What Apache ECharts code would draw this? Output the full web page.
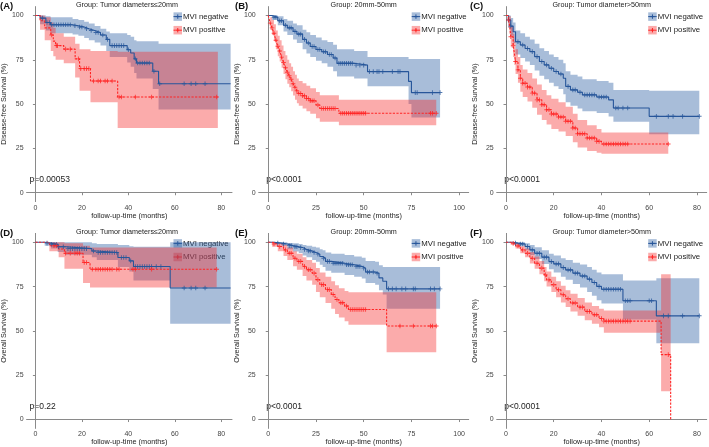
<!DOCTYPE html>
<html><head><meta charset="utf-8">
<script src="https://cdn.jsdelivr.net/npm/echarts@6/dist/echarts.min.js"></script>
<style>html,body{margin:0;padding:0;background:#fff}#c{width:709px;height:447px}</style>
</head><body><div id="c"></div>
<script>
// ---------- tick labels ----------
const xTicks80 = [0, 20, 40, 60, 80];
const xTicks100 = [0, 25, 50, 75, 100];
const yTicks = [0, 25, 50, 75, 100];
const legendNames = ['MVI negative', 'MVI positive'];
const panelLabels = ['(A)', '(B)', '(C)', '(D)', '(E)', '(F)'];
const groupTitles = ['Group: Tumor diameters\u226420mm', 'Group: 20mm-50mm', 'Group: Tumor diameter>50mm',
                     'Group: Tumor diameters\u226420mm', 'Group: 20mm-50mm', 'Group: Tumor diameter>50mm'];
const yNames = ['Disease-free Survival (%)', 'Disease-free Survival (%)', 'Disease-free Survival (%)',
                'Overall Survival (%)', 'Overall Survival (%)', 'Overall Survival (%)'];
const pValues = ['p=0.00053', 'p<0.0001', 'p<0.0001', 'p=0.22', 'p<0.0001', 'p<0.0001'];
const xName = 'follow-up-time (months)';

// ---------- Panel A: DFS, <=20mm ----------
const A_negT  = [0, 2, 4.5, 6.5, 16, 18.5, 21, 23, 25.5, 28, 30.5, 32, 39.5, 41, 42.5, 43.5, 50.5, 53, 84];
const A_negS  = [100, 98.5, 96, 94.8, 94.2, 93.5, 92.5, 91.5, 90.4, 89, 86.5, 83, 80.7, 78.8, 75.5, 73.2, 68.5, 61.5, 61.5];
const A_negLo = [100, 95, 91.5, 90, 89.3, 88.5, 87.3, 86, 84.8, 83, 80, 76.5, 73.5, 71, 67.5, 64.5, 58.5, 47, 47];
const A_negHi = [100, 100, 99.5, 99, 98, 97.5, 96.5, 95.5, 94, 92.5, 91, 90, 89, 88, 86, 85.5, 85.5, 84, 84];
const A_negCens = [3, 5, 6, 7, 8, 9, 10, 11, 12, 13, 14, 15, 17, 19, 20, 22, 24, 26, 27, 29, 31, 33, 34, 35, 36, 37, 38, 40, 43, 44, 45, 46, 47, 48, 49, 51, 53.5, 64, 67, 69, 73];
const A_posT  = [0, 2, 4, 6.6, 7.7, 8.7, 12.2, 17.1, 19, 23.7, 35.4, 78.5];
const A_posS  = [100, 97, 93, 89, 85.5, 83, 81, 75.5, 70, 63, 54, 54];
const A_posLo = [100, 92, 86, 80, 77, 75, 73, 65, 57.5, 51, 36.5, 36.5];
const A_posHi = [100, 100, 99, 96, 93, 90, 88, 84, 81, 80, 79.5, 79.5];
const A_posCens = [7, 9, 9.5, 13, 15, 18.5, 19.5, 21, 22, 23, 25, 27, 28, 30, 31, 33, 36, 37, 43, 50, 78];

// ---------- Panel B: DFS, 20-50mm ----------
const B_negT  = [0, 2, 5, 8, 10, 13, 15, 18, 20, 22, 25, 28, 31, 34, 36, 45, 52, 73.5, 75, 90];
const B_negS  = [100, 99, 97, 94.5, 93, 91, 89.5, 86.5, 84.5, 82.5, 80.8, 79.5, 78, 76, 73, 72, 68.3, 62.8, 56.5, 56.5];
const B_negLo = [100, 97.5, 94.5, 91, 89, 86.5, 84.5, 81, 78.5, 76.5, 74.5, 73, 71, 68.5, 65.5, 64.5, 60, 50, 42.5, 42.5];
const B_negHi = [100, 100, 99.5, 98, 97, 95.5, 94.5, 92, 90.5, 89, 87.5, 86, 85, 83.5, 81, 80, 76.5, 75.5, 75.5, 75.5];
const B_negCens = [3, 4, 6, 7, 9, 11, 12, 14, 16, 17, 19, 21, 23, 24, 26, 27, 29, 30, 32, 33, 35, 37, 38, 39, 40, 41, 42, 43, 44, 46, 48, 50, 53, 55, 57, 58, 60, 65, 68, 69, 77, 78, 86, 90];
const B_posT  = [0, 1, 2, 3, 4, 5, 6, 7, 8, 9, 10, 11, 12, 13, 14, 15, 16, 18, 20, 22, 25, 27, 37, 88];
const B_posS  = [100, 95.7, 93, 90, 86, 82.6, 80, 76.5, 73.5, 70.5, 68, 66, 64, 61.5, 59.5, 57.5, 56, 54.7, 53.2, 51.9, 49.5, 47.5, 44.8, 44.8];
const B_posLo = [100, 92, 89, 85.5, 81, 77, 74, 70.5, 67, 64, 61.5, 59.5, 57.3, 54.8, 52.5, 50.5, 49, 47.5, 46, 44.5, 42, 40, 38, 38];
const B_posHi = [100, 99, 97.5, 95, 91.5, 88.5, 86, 83, 80, 77.5, 75, 73, 71, 68.5, 66.5, 64.5, 63, 61.8, 60.3, 59, 56.8, 55, 52.4, 52.4];
const B_posCens = [1, 2, 3, 4, 5, 6, 7, 8, 9, 10, 11, 12, 13, 14, 15, 16, 17, 18, 19, 20, 21, 22, 23, 24, 26, 28, 29, 30, 31, 32, 33, 34, 35, 38, 39, 40, 41, 42, 43, 44, 45, 46, 47, 48, 49, 50, 51, 85, 86, 88];

// ---------- Panel C: DFS, >50mm ----------
const C_negT  = [0, 1, 2, 3, 4, 6, 8, 10, 12, 14, 16, 18, 20, 22, 24, 25, 27, 30, 32, 38, 43, 45, 60, 81];
const C_negS  = [100, 97.4, 94, 90.8, 85.2, 83.3, 81.4, 79.6, 76.8, 74, 72.1, 70.2, 68.4, 67, 64.6, 60, 58, 56.7, 55.2, 54, 52.4, 47.8, 43.1, 43.1];
const C_negLo = [100, 93, 88.5, 84.5, 78, 76, 74, 72, 69, 66, 64, 62, 60, 58.5, 55.5, 51, 49, 47.5, 46, 45, 43, 40, 33, 33];
const C_negHi = [100, 100, 98.5, 96, 91.5, 90, 88, 86.5, 84, 81.5, 80, 78, 76.5, 75, 73, 68.5, 66.5, 65.5, 64, 63, 62, 58, 57.5, 57.5];
const C_negCens = [1, 2, 5, 7, 9, 11, 13, 15, 17, 19, 21, 23, 26, 28, 29, 31, 33, 34, 35, 36, 37, 39, 40, 41, 42, 46, 47, 49, 51, 63, 68, 70, 74, 81];
const C_posT  = [0, 1, 1.5, 2, 3, 3.5, 4, 5, 6, 7, 9, 11, 13, 15, 17, 19, 22, 25, 28, 30, 34, 38, 40, 68];
const C_posS  = [100, 97.4, 94.6, 88, 83, 78.7, 74, 69.3, 64.6, 61.8, 59.6, 56.2, 52.4, 49.6, 46.8, 44.4, 42.7, 40.3, 36.5, 33.3, 30.9, 29, 27.5, 27.5];
const C_posLo = [100, 93, 89.5, 82, 76.5, 72, 67, 62, 57, 54, 51.5, 48, 44, 41, 38.5, 36, 34.5, 32, 28.5, 25.5, 23.5, 22.5, 22, 22];
const C_posHi = [100, 100, 99.5, 94, 89.5, 85.5, 81, 76.5, 72, 69.5, 67.5, 64.5, 61, 58, 55, 53, 51, 48.5, 44.5, 41, 38, 36, 34, 34];
const C_posCens = [1, 2, 3, 4, 5, 6, 7, 8, 9, 10, 11, 12, 13, 14, 15, 16, 17, 18, 19, 20, 21, 22, 23, 24, 25, 26, 27, 28, 29, 30, 31, 32, 33, 34, 35, 36, 37, 38, 39, 41, 42, 43, 44, 45, 46, 47, 48, 49, 50, 51, 68];

// ---------- Panel D: OS, <=20mm ----------
const D_negT  = [0, 4, 6.7, 9.6, 13, 24.3, 26.4, 35.5, 40.4, 42.2, 58, 84];
const D_negS  = [100, 99.5, 98.9, 97.5, 96.4, 95.1, 94.2, 91.4, 89.5, 86.3, 74.2, 74.2];
const D_negLo = [100, 98, 96.5, 94.5, 93, 91.5, 90, 86, 83.5, 78.5, 54, 54];
const D_negHi = [100, 100, 100, 100, 100, 99.5, 99, 98.5, 97.8, 97.5, 100, 100];
const D_negCens = [5, 7, 8, 9, 10, 12, 14, 15, 16, 17, 18, 19, 20, 21, 22, 25, 27, 28, 29, 30, 31, 32, 33, 34, 35, 37, 38, 39, 41, 43, 44, 45, 46, 47, 48, 49, 50, 52, 54, 64, 67, 69, 73];
const D_posT  = [0, 6, 10, 12.5, 20.5, 23.5, 78];
const D_posS  = [100, 98, 96.2, 93.8, 88.6, 84.8, 84.8];
const D_posLo = [100, 95, 91.5, 85, 77, 74.5, 74.5];
const D_posHi = [100, 100, 100, 99.5, 98, 97, 97];
const D_posCens = [8, 9, 13, 15, 17, 18, 19, 21, 22, 24.5, 26, 27, 28, 29, 30, 31, 32, 33, 35, 36, 42, 43, 50, 78];

// ---------- Panel E: OS, 20-50mm ----------
const E_negT  = [0, 3, 7, 10, 13, 16, 18, 20, 23, 25, 27, 28.5, 30, 33, 40, 45, 49, 51, 56, 58, 60, 62, 90];
const E_negS  = [100, 99.5, 99, 98.1, 97.5, 97, 96, 95.1, 94.2, 93.3, 92, 91, 89.2, 88.2, 87.3, 86.4, 85.4, 83.2, 82.5, 79.9, 78, 73.7, 73.7];
const E_negLo = [100, 99, 98, 96, 94.8, 94, 92.5, 91.5, 90, 89, 87.3, 86, 84, 82.8, 81.5, 80.5, 79.5, 77, 76, 73, 70.5, 62.5, 62.5];
const E_negHi = [100, 100, 100, 99.6, 99.4, 99, 98.5, 98, 97.5, 97, 96, 95.5, 94.2, 93.5, 92.8, 92, 91.2, 89.5, 89, 87, 86, 86, 86];
const E_negCens = [5, 8, 11, 12, 14, 15, 17, 19, 21, 22, 24, 26, 29, 31, 32, 34, 35, 36, 37, 38, 39, 41, 42, 43, 44, 46, 47, 48, 50, 52, 53, 55, 57, 63, 65, 67, 70, 72, 76, 77, 85, 87, 90];
const E_posT  = [0, 2, 5, 8, 10, 13, 15, 18, 20, 23, 25, 27, 30, 33, 35, 37, 40, 42, 62, 88];
const E_posS  = [100, 99, 97.6, 95.7, 93.8, 91, 89.2, 86.4, 84.5, 82.6, 78.9, 76.1, 73.3, 70.5, 67.7, 65.9, 64, 62.1, 52.8, 52.8];
const E_posLo = [100, 97.5, 95, 92.3, 90, 86.5, 84.5, 81, 78.5, 76, 72, 69, 65.8, 62.5, 59.5, 57.5, 55.5, 53.5, 38, 38];
const E_posHi = [100, 100, 99.5, 98.5, 97, 95, 93.5, 91.5, 90, 88.5, 85.5, 83, 80.5, 78, 75.8, 74, 72.5, 71.8, 71.8, 71.8];
const E_posCens = [3, 6, 9, 11, 12, 14, 16, 17, 19, 21, 22, 24, 26, 28, 29, 31, 32, 34, 36, 38, 39, 41, 43, 44, 45, 46, 47, 48, 49, 50, 51, 69, 76, 85, 86, 88];

// ---------- Panel F: OS, >50mm ----------
const F_negT  = [0, 3, 5, 8, 10, 12, 15, 18, 20, 23, 25, 28, 31, 34, 36, 38, 40, 49, 63, 81];
const F_negS  = [100, 99.5, 99, 97.6, 95.7, 93.8, 91.6, 89.1, 87.8, 85.7, 84.4, 82.6, 81, 79.2, 77.3, 75.1, 73.5, 67, 58.5, 58.5];
const F_negLo = [100, 98.8, 97.8, 95.5, 92.8, 90.5, 87.8, 84.8, 83, 80.5, 78.8, 76.5, 74.5, 72, 69.8, 67.3, 65.5, 56.5, 43, 43];
const F_negHi = [100, 100, 100, 99.5, 98.5, 97.2, 95.5, 93.5, 92.5, 91, 90, 88.5, 87.5, 86, 84.5, 83, 82, 78.4, 79.7, 79.7];
const F_negCens = [4, 6, 7, 9, 11, 13, 14, 16, 17, 19, 21, 22, 24, 26, 27, 29, 30, 32, 33, 35, 37, 39, 41, 42, 43, 44, 45, 46, 47, 48, 50, 51, 52, 60, 61, 66, 68, 74, 81];
const F_posT  = [0, 2, 4, 6, 8, 10, 12, 14, 16, 17, 19, 21, 23, 25, 27, 30, 33, 36, 39, 41, 65, 69];
const F_posS  = [100, 99.4, 97.9, 95.7, 93.8, 91, 88.2, 85.4, 81.6, 78.8, 76, 73.2, 70.4, 68.1, 65.7, 63.4, 61, 59.1, 57, 55.5, 36.6, 0];
const F_posLo = [100, 98.5, 96.5, 93.8, 91.5, 88, 85, 82, 78, 75, 72, 69, 66, 63.5, 61, 58.5, 56, 54, 52, 49, 16, 16];
const F_posHi = [100, 100, 99.5, 97.8, 96.5, 94.5, 92, 89.5, 86, 83.5, 80.5, 78, 75.5, 73, 71, 68.5, 66, 64, 62.5, 61.5, 82, 82];
const F_posCens = [3, 5, 7, 9, 11, 13, 15, 16.5, 18, 20, 22, 24, 26, 28, 29, 31, 32, 34, 35, 37, 38, 40, 41, 42, 43, 44, 45, 46, 47, 48, 49, 50, 51, 52, 68];

// ---------- styling / layout ----------
const FONT = "'Liberation Sans', Arial, sans-serif";
const NEG_LINE = '#27569A', NEG_BAND = 'rgba(48,98,165,0.42)';
const POS_LINE = '#FF2424', POS_BAND = 'rgba(245,45,45,0.40)';
const layout = [
  {left: 22,    top: 6.6,   xmin: -3.8, xmax: 84.6,  ticks: xTicks80,  px: 0,   py: 0},
  {left: 258.7, top: 6.6,   xmin: -5,   xmax: 105,   ticks: xTicks100, px: 235, py: 0},
  {left: 496.7, top: 6.6,   xmin: -3.9, xmax: 84.1,  ticks: xTicks80,  px: 470, py: 0},
  {left: 22,    top: 233.4, xmin: -3.8, xmax: 84.6,  ticks: xTicks80,  px: 0,   py: 227.5},
  {left: 258.7, top: 233.4, xmin: -5,   xmax: 105,   ticks: xTicks100, px: 235, py: 227.5},
  {left: 496.7, top: 233.4, xmin: -3.9, xmax: 84.1,  ticks: xTicks80,  px: 470, py: 227.5}
];
const W = 210, H = 195;
const curves = [
  [[A_negT, A_negS, A_negLo, A_negHi, A_negCens], [A_posT, A_posS, A_posLo, A_posHi, A_posCens]],
  [[B_negT, B_negS, B_negLo, B_negHi, B_negCens], [B_posT, B_posS, B_posLo, B_posHi, B_posCens]],
  [[C_negT, C_negS, C_negLo, C_negHi, C_negCens], [C_posT, C_posS, C_posLo, C_posHi, C_posCens]],
  [[D_negT, D_negS, D_negLo, D_negHi, D_negCens], [D_posT, D_posS, D_posLo, D_posHi, D_posCens]],
  [[E_negT, E_negS, E_negLo, E_negHi, E_negCens], [E_posT, E_posS, E_posLo, E_posHi, E_posCens]],
  [[F_negT, F_negS, F_negLo, F_negHi, F_negCens], [F_posT, F_posS, F_posLo, F_posHi, F_posCens]]
];
const PLUS = 'path://M2,0H3V2H5V3H3V5H2V3H0V2H2Z';

function stepValue(T, S, t) {
  let v = S[0];
  for (let i = 0; i < T.length; i++) { if (T[i] <= t) v = S[i]; }
  return v;
}

// step-shaped confidence band drawn through the axis scales
function bandRenderer(T, Lo, Hi, color, blend) {
  return function (params, api) {
    if (params.dataIndex !== 0) return null;
    const n = T.length, pts = [];
    for (let i = 0; i < n; i++) {
      pts.push(api.coord([T[i], Hi[i]]));
      if (i < n - 1) pts.push(api.coord([T[i + 1], Hi[i]]));
    }
    for (let i = n - 1; i >= 0; i--) {
      if (i < n - 1) pts.push(api.coord([T[i + 1], Lo[i]]));
      pts.push(api.coord([T[i], Lo[i]]));
    }
    return {type: 'polygon', shape: {points: pts}, style: {fill: color, blend: blend}, silent: true};
  };
}

const grids = [], xAxes = [], yAxes = [], series = [], graphics = [];
layout.forEach((L, gi) => {
  grids.push({left: L.left, top: L.top, width: W, height: H});
  xAxes.push({
    type: 'value', gridIndex: gi, min: L.xmin, max: L.xmax,
    name: xName, nameLocation: 'middle', nameGap: 8.5,
    nameTextStyle: {fontFamily: FONT, fontSize: 7.3, color: '#222'},
    axisLine: {show: true, lineStyle: {color: '#8a8a8a', width: 1}},
    axisTick: {show: true, length: 2.5, lineStyle: {color: '#8a8a8a'}, customValues: L.ticks},
    axisLabel: {show: true, margin: 2.5, fontFamily: FONT, fontSize: 7, color: '#444', customValues: L.ticks},
    splitLine: {show: false}
  });
  yAxes.push({
    type: 'value', gridIndex: gi, min: -5, max: 105,
    name: yNames[gi], nameLocation: 'middle', nameGap: 12.5,
    nameTextStyle: {fontFamily: FONT, fontSize: 7.2, color: '#222'},
    axisLine: {show: true, lineStyle: {color: '#8a8a8a', width: 1}},
    axisTick: {show: true, length: 2.5, lineStyle: {color: '#8a8a8a'}, customValues: yTicks},
    axisLabel: {show: true, margin: 3, fontFamily: FONT, fontSize: 7, color: '#444', customValues: yTicks},
    splitLine: {show: false}
  });
  const styles = [
    {line: NEG_LINE, band: NEG_BAND, dash: 'solid', blend: 'source-over'},
    {line: POS_LINE, band: POS_BAND, dash: [2.2, 1.4], blend: 'multiply'}
  ];
  curves[gi].forEach((c, k) => {
    const [T, S, Lo, Hi] = c;
    series.push({
      type: 'custom', xAxisIndex: gi, yAxisIndex: gi, silent: true, z: 1 + k,
      data: T.map((t, i) => [t, Lo[i], Hi[i]]),
      encode: {x: 0, y: [1, 2]},
      renderItem: bandRenderer(T, Lo, Hi, styles[k].band, styles[k].blend)
    });
  });
  curves[gi].forEach((c, k) => {
    const [T, S, Lo, Hi, C] = c;
    series.push({
      type: 'line', name: legendNames[k], xAxisIndex: gi, yAxisIndex: gi, step: 'end', symbol: 'none',
      data: T.map((t, i) => [t, S[i]]),
      lineStyle: {color: styles[k].line, width: 1.1, type: styles[k].dash}, z: 3
    });
    series.push({
      type: 'scatter', xAxisIndex: gi, yAxisIndex: gi, symbol: PLUS, symbolSize: 4.6,
      data: C.map(t => [t, stepValue(T, S, t)]),
      itemStyle: {color: styles[k].line}, z: 4
    });
  });
  const cx = L.left + W / 2;
  graphics.push({type: 'text', x: L.px, y: L.py + 6,
    style: {text: panelLabels[gi], font: "bold 9.5px " + FONT, fill: '#111', textAlign: 'left', textVerticalAlign: 'middle', align: 'left', verticalAlign: 'middle'}});
  graphics.push({type: 'text', x: cx, y: L.top - 1.6,
    style: {text: groupTitles[gi], font: "7.2px " + FONT, fill: '#222', textAlign: 'center', textVerticalAlign: 'middle', align: 'center', verticalAlign: 'middle'}});
  graphics.push({type: 'text', x: L.left + 7.5, y: L.top + 173.5,
    style: {text: pValues[gi], font: "8.5px " + FONT, fill: '#222', textAlign: 'left', textVerticalAlign: 'middle', align: 'left', verticalAlign: 'middle'}});
  [0, 1].forEach(k => {
    const kx = L.left + 151.5 + (gi % 3 === 1 ? 1.5 : 0);
    const yc = L.top + 10 + k * 13.6;
    graphics.push({type: 'group', children: [
      {type: 'rect', shape: {x: kx, y: yc - 4.25, width: 8.5, height: 8.5}, style: {fill: styles[k].band}},
      {type: 'line', shape: {x1: kx, y1: yc, x2: kx + 8.5, y2: yc}, style: {stroke: styles[k].line, lineWidth: 1, lineDash: k ? [2, 1.2] : null}},
      {type: 'line', shape: {x1: kx + 4.25, y1: yc - 2.2, x2: kx + 4.25, y2: yc + 2.2}, style: {stroke: styles[k].line, lineWidth: 1}},
      {type: 'line', shape: {x1: kx + 2, y1: yc, x2: kx + 6.5, y2: yc}, style: {stroke: styles[k].line, lineWidth: 1}},
      {type: 'text', x: kx + 9.5, y: yc, style: {text: legendNames[k], font: "7.8px " + FONT, fill: '#222', textAlign: 'left', textVerticalAlign: 'middle', align: 'left', verticalAlign: 'middle'}}
    ]});
  });
});

const chart = echarts.init(document.getElementById('c'), null, {renderer: 'canvas'});
chart.setOption({
  animation: false,
  backgroundColor: '#fff',
  grid: grids, xAxis: xAxes, yAxis: yAxes, series: series, graphic: graphics
});
</script></body></html>
